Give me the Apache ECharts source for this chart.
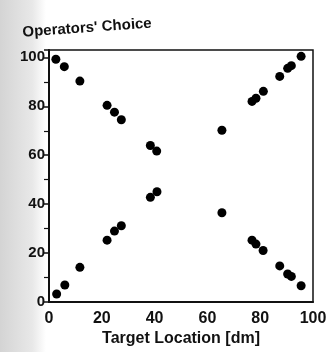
<!DOCTYPE html>
<html>
<head>
<meta charset="utf-8">
<script src="https://cdn.jsdelivr.net/npm/echarts@6/dist/echarts.min.js"></script>
<style>
  html, body { margin: 0; padding: 0; background: #fff; }
  #chart { width: 331px; height: 352px; }
</style>
</head>
<body>
<div id="chart"></div>
<script>
// target location (dm) and operators' choice
var targetX = [2.6, 5.8, 11.7, 22, 24.8, 27.4, 38.4, 40.8, 65.5,
  76.9, 78.4, 81.2, 87.4, 90.4, 91.8, 95.5,
  2.9, 6, 11.7, 22, 24.8, 27.4, 38.4, 40.9, 65.5,
  76.9, 78.4, 81.1, 87.4, 90.4, 91.8, 95.5];
var choiceY = [99.2, 96.2, 90.3, 80.4, 77.6, 74.5, 64, 61.7, 70.2,
  82, 83.3, 86.1, 92.2, 95.5, 96.6, 100.4,
  3.3, 7, 14.2, 25.3, 29, 31.2, 42.8, 45.1, 36.5,
  25.3, 23.7, 21.1, 14.8, 11.5, 10.5, 6.7];

var points = targetX.map(function (x, i) { return [x, choiceY[i]]; });

var chart = echarts.init(document.getElementById('chart'));
var option = {
  animation: false,
  backgroundColor: '#fff',
  grid: {
    left: 49, right: 18, top: 50, bottom: 41,
    show: true,
    borderColor: '#111',
    borderWidth: 1.5
  },
  graphic: [
    // grey gutter of the scanned page
    {
      type: 'rect', z: -10, silent: true,
      shape: { x: 0, y: 0, width: 46, height: 352 },
      style: {
        fill: new echarts.graphic.LinearGradient(0, 0, 1, 0, [
          { offset: 0, color: '#d4d4d4' },
          { offset: 0.7, color: '#e8e8e8' },
          { offset: 1, color: '#ffffff' }
        ])
      }
    },
    {
      type: 'text', left: 22, top: 16, rotation: 0.07,
      style: {
        text: "Operators' Choice",
        fill: '#111',
        font: 'bold 15px "Liberation Sans", Arial, sans-serif'
      }
    }
  ],
  xAxis: {
    type: 'value',
    min: 0, max: 100, interval: 20,
    name: 'Target Location [dm]',
    nameLocation: 'middle',
    nameGap: 28,
    nameTextStyle: { color: '#111', fontWeight: 'bold', fontSize: 16, fontFamily: 'Liberation Sans' },
    axisLine: { show: true, lineStyle: { color: '#111', width: 2 } },
    axisTick: { show: false },
    splitLine: { show: false },
    axisLabel: { color: '#111', fontWeight: 'bold', fontSize: 16, fontFamily: 'Liberation Sans', margin: 8 }
  },
  yAxis: {
    type: 'value',
    min: 0, max: 103, interval: 20,
    axisLine: { show: true, lineStyle: { color: '#111', width: 2 } },
    axisTick: { show: true, length: 5, lineStyle: { color: '#111', width: 1.5 } },
    minorTick: { show: true, splitNumber: 2, length: 5, lineStyle: { color: '#111', width: 1.2 } },
    splitLine: { show: false },
    axisLabel: {
      color: '#111', fontWeight: 'bold', fontSize: 15, fontFamily: 'Liberation Sans',
      margin: 4, showMaxLabel: false,
      formatter: function (v) { return v > 100 ? '' : v; }
    }
  },
  series: [{
    type: 'scatter',
    symbol: 'circle',
    symbolSize: 9,
    itemStyle: { color: '#000', opacity: 1 },
    data: points
  }]
};
chart.setOption(option);
</script>
</body>
</html>
